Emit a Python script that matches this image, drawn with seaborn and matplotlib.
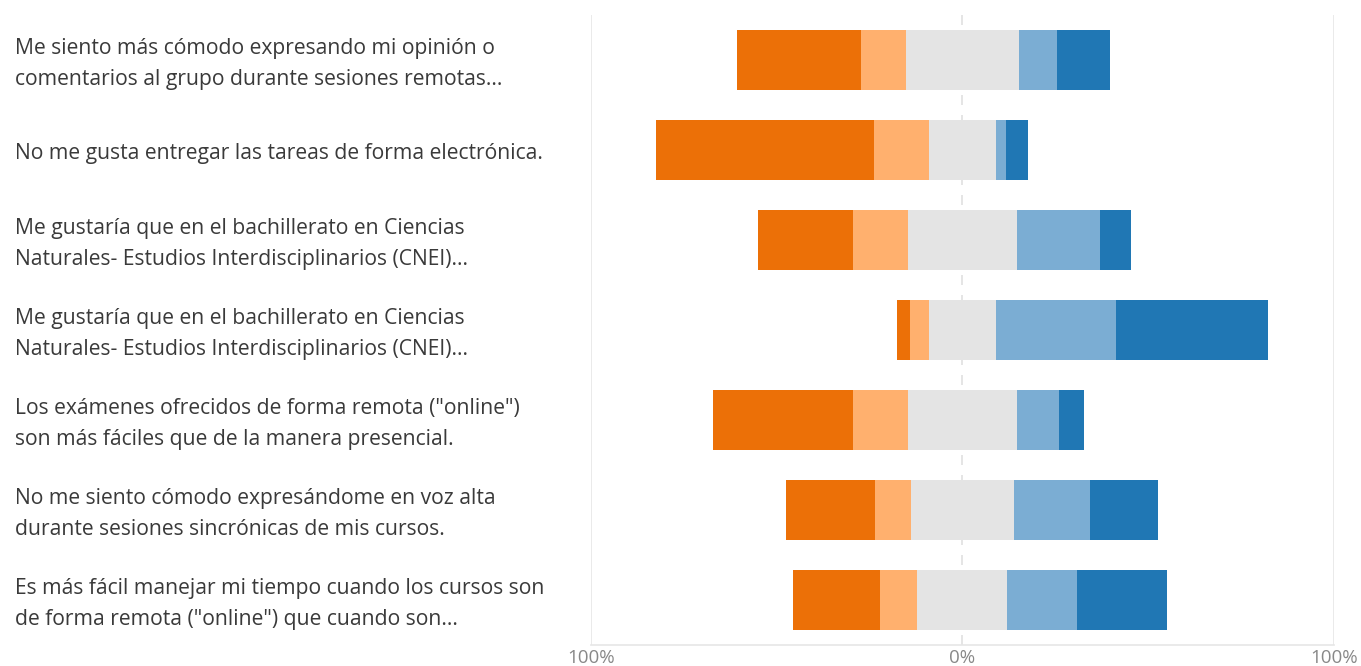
import matplotlib
matplotlib.use("Agg")
import matplotlib.pyplot as plt
import matplotlib.transforms as mtransforms
import seaborn as sns
import pandas as pd

# ---- data (percent of responses) ----
questions = [
    "Me siento más cómodo expresando mi opinión o\ncomentarios al grupo durante sesiones remotas...",
    "No me gusta entregar las tareas de forma electrónica.",
    "Me gustaría que en el bachillerato en Ciencias\nNaturales- Estudios Interdisciplinarios (CNEI)...",
    "Me gustaría que en el bachillerato en Ciencias\nNaturales- Estudios Interdisciplinarios (CNEI)...",
    "Los exámenes ofrecidos de forma remota (\"online\")\nson más fáciles que de la manera presencial.",
    "No me siento cómodo expresándome en voz alta\ndurante sesiones sincrónicas de mis cursos.",
    "Es más fácil manejar mi tiempo cuando los cursos son\nde forma remota (\"online\") que cuando son...",
]
strongly_disagree = [33.3, 58.6, 25.4, 3.7, 37.7, 24.1, 23.2]
disagree = [12.1, 14.7, 14.8, 4.9, 14.8, 9.6, 10.2]
neutral = [30.3, 18.2, 29.5, 18.2, 29.5, 27.6, 24.2]
agree = [10.3, 2.6, 22.2, 32.2, 11.4, 20.7, 18.7]
strongly_agree = [14.3, 6.0, 8.5, 41.1, 6.7, 18.2, 24.2]
tick_values = [-100, 0, 100]
tick_labels = ["100%", "0%", "100%"]

c_sd = "#EC7007"
c_d = "#FFB06E"
c_n = "#E4E4E4"
c_a = "#7BADD3"
c_sa = "#2077B4"

df = pd.DataFrame({
    "q": [str(i) for i in range(len(questions))],
    "sd": strongly_disagree, "d": disagree, "n": neutral,
    "a": agree, "sa": strongly_agree,
})
df["r_sa"] = df["n"] / 2 + df["a"] + df["sa"]
df["r_a"] = df["n"] / 2 + df["a"]
df["r_n"] = df["n"] / 2
df["l_sd"] = -(df["n"] / 2 + df["d"] + df["sd"])
df["l_d"] = -(df["n"] / 2 + df["d"])
df["l_n"] = -df["n"] / 2

sns.set_theme(style="white")
plt.rcParams["font.family"] = ["Open Sans", "DejaVu Sans"]

fig = plt.figure(figsize=(13.61, 6.66), dpi=100)
ax = fig.add_axes([591 / 1361, 1 - 645 / 666, (1333.7 - 591) / 1361, 630 / 666])

bw = 0.667
for col, color in [("r_sa", c_sa), ("r_a", c_a), ("r_n", c_n),
                   ("l_sd", c_sd), ("l_d", c_d), ("l_n", c_n)]:
    sns.barplot(data=df, x=col, y="q", orient="h", color=color,
                width=bw, ax=ax, saturation=1, linewidth=0, errorbar=None)

ax.set_xlim(-100, 100)
ax.set_ylim(len(questions) - 0.5, -0.5)
ax.set_xlabel("")
ax.set_ylabel("")

# grid lines
for v in (-100, 100):
    ax.axvline(v, color="#E6E6E6", lw=1.2, zorder=0)
ax.axvline(0, color="#E0E0E0", lw=1.2, ls=(0, (6, 6)), zorder=0)

for s in ("top", "left", "right"):
    ax.spines[s].set_visible(False)
ax.spines["bottom"].set_color("#E6E6E6")
ax.spines["bottom"].set_linewidth(1.2)

ax.set_xticks(tick_values)
ax.set_xticklabels(tick_labels, color="#888888", fontsize=13.5)
ax.tick_params(axis="x", length=0, pad=3)
ax.set_yticks([])

trans = mtransforms.blended_transform_factory(fig.transFigure, ax.transData)
for i, q in enumerate(questions):
    ax.text(15 / 1361, i + 0.04, q, transform=trans, ha="left", va="center",
            fontsize=15.2, color="#3A3A3A", linespacing=1.62)

fig.savefig("out.png", dpi=100)
